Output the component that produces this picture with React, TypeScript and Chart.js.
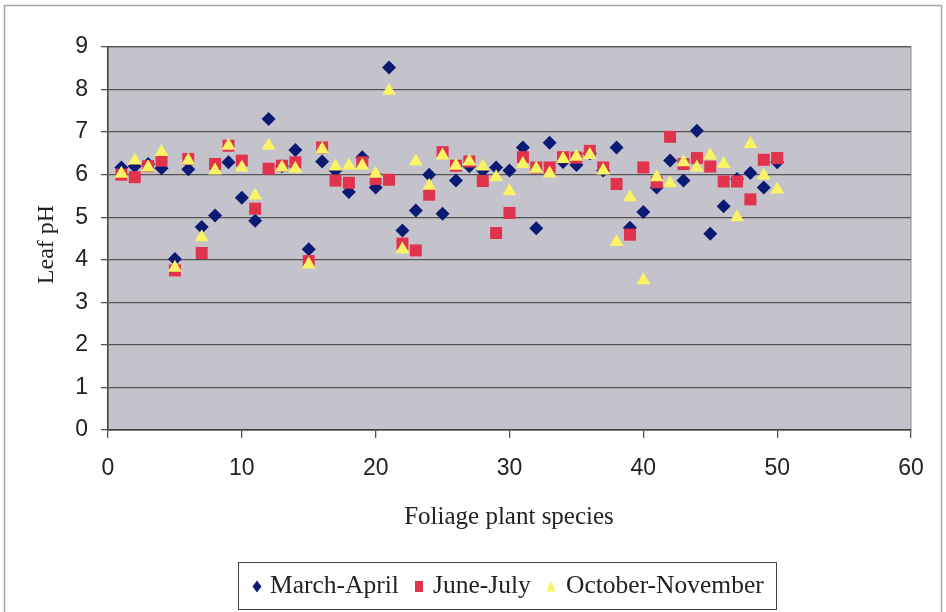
import React, { useEffect, useRef } from "react";
import { Chart, registerables } from "chart.js";

Chart.register(...registerables);

// Species numbers 1..50 along the x axis
const species = [
  1, 2, 3, 4, 5, 6, 7, 8, 9, 10, 11, 12, 13, 14, 15, 16, 17, 18, 19, 20, 21, 22, 23, 24, 25,
  26, 27, 28, 29, 30, 31, 32, 33, 34, 35, 36, 37, 38, 39, 40, 41, 42, 43, 44, 45, 46, 47, 48, 49, 50,
];

// Leaf pH per sampling period
const marchApril = [
  6.17, 6.2, 6.25, 6.15, 4.02, 6.13, 4.77, 5.04, 6.29, 5.46, 4.92, 7.31, 6.2, 6.58, 4.25, 6.31, 6.1,
  5.59, 6.41, 5.7, 8.52, 4.69, 5.16, 6.0, 5.08, 5.86, 6.2, 6.1, 6.17, 6.1, 6.64, 4.74, 6.75, 6.3,
  6.23, 6.5, 6.1, 6.64, 4.75, 5.12, 5.7, 6.33, 5.86, 7.03, 4.61, 5.26, 5.9, 6.04, 5.7, 6.29,
];
const juneJuly = [
  6.0, 5.94, 6.2, 6.33, 3.75, 6.37, 4.16, 6.25, 6.68, 6.33, 5.2, 6.14, 6.21, 6.29, 3.97, 6.64, 5.86,
  5.81, 6.29, 5.9, 5.88, 4.38, 4.22, 5.53, 6.53, 6.21, 6.31, 5.85, 4.63, 5.1, 6.41, 6.17, 6.17, 6.41,
  6.4, 6.56, 6.17, 5.78, 4.59, 6.17, 5.82, 6.89, 6.25, 6.39, 6.19, 5.84, 5.84, 5.42, 6.35, 6.39,
];
const octoberNovember = [
  6.02, 6.33, 6.17, 6.53, 3.81, 6.33, 4.53, 6.1, 6.68, 6.17, 5.51, 6.68, 6.17, 6.14, 3.89, 6.6, 6.19,
  6.21, 6.21, 6.02, 7.97, 4.24, 6.31, 5.74, 6.45, 6.21, 6.31, 6.19, 5.94, 5.61, 6.25, 6.14, 6.03,
  6.37, 6.42, 6.46, 6.1, 4.42, 5.47, 3.52, 5.94, 5.8, 6.29, 6.17, 6.45, 6.25, 5.0, 6.72, 5.98, 5.65,
];

const seriesNames = ["March-April", "June-July", "October-November"];
const xTicks = [0, 10, 20, 30, 40, 50, 60];
const yTicks = [0, 1, 2, 3, 4, 5, 6, 7, 8, 9];

const NAVY = "#0b1a72";
const RED = "#e2334d";
const YELLOW = "#f9f365";
const SERIF = "'Liberation Serif', 'Times New Roman', serif";
const SANS = "'Liberation Sans', Arial, sans-serif";

const toPoints = (ys: number[]) => species.map((x, i) => ({ x, y: ys[i] }));

// Background, frame, axis titles and the boxed legend
const decorPlugin = {
  id: "decor",
  beforeDraw(chart: any) {
    const { ctx, chartArea: a, width, height } = chart;
    ctx.save();
    ctx.fillStyle = "#ffffff";
    ctx.fillRect(0, 0, width, height);
    // outer frame
    ctx.strokeStyle = "#a8a8a8";
    ctx.lineWidth = 1.5;
    ctx.beginPath();
    ctx.moveTo(4.5, height);
    ctx.lineTo(4.5, 5.5);
    ctx.lineTo(941.5, 5.5);
    ctx.lineTo(941.5, height);
    ctx.stroke();
    // plot area
    ctx.fillStyle = "#c4c3cc";
    ctx.fillRect(a.left, a.top, a.right - a.left, a.bottom - a.top);
    ctx.strokeStyle = "#8c8c8c";
    ctx.lineWidth = 1;
    ctx.strokeRect(a.left, a.top, a.right - a.left, a.bottom - a.top);
    ctx.restore();
  },
  afterDraw(chart: any) {
    const { ctx, chartArea: a } = chart;
    ctx.save();
    ctx.fillStyle = "#222";
    // y title
    ctx.font = `24px ${SERIF}`;
    ctx.textAlign = "center";
    ctx.textBaseline = "middle";
    ctx.translate(47, (a.top + a.bottom) / 2 + 6);
    ctx.rotate(-Math.PI / 2);
    ctx.fillText("Leaf pH", 0, 0);
    ctx.restore();

    ctx.save();
    ctx.fillStyle = "#222";
    ctx.font = `25px ${SERIF}`;
    ctx.textAlign = "center";
    ctx.textBaseline = "middle";
    ctx.fillText("Foliage plant species", 509, 517);

    // legend
    const bx = 238, by = 562, bw = 538, bh = 47;
    ctx.fillStyle = "#ffffff";
    ctx.fillRect(bx, by, bw, bh);
    ctx.strokeStyle = "#444";
    ctx.lineWidth = 1;
    ctx.strokeRect(bx + 0.5, by + 0.5, bw, bh);
    const cy = by + bh / 2 + 1;
    const items = [
      { x: 257, tx: 270, color: NAVY, shape: "diamond" },
      { x: 419, tx: 433, color: RED, shape: "square" },
      { x: 551, tx: 566, color: YELLOW, shape: "triangle" },
    ];
    items.forEach((it, i) => {
      ctx.fillStyle = it.color;
      ctx.beginPath();
      if (it.shape === "diamond") {
        ctx.moveTo(it.x, cy - 6);
        ctx.lineTo(it.x + 4.5, cy);
        ctx.lineTo(it.x, cy + 6);
        ctx.lineTo(it.x - 4.5, cy);
        ctx.closePath();
      } else if (it.shape === "square") {
        ctx.rect(it.x - 4, cy - 5.5, 8, 11);
      } else {
        ctx.moveTo(it.x, cy - 6);
        ctx.lineTo(it.x + 4.5, cy + 5);
        ctx.lineTo(it.x - 4.5, cy + 5);
        ctx.closePath();
      }
      ctx.fill();
      ctx.fillStyle = "#222";
      ctx.font = `25.5px ${SERIF}`;
      ctx.textAlign = "left";
      ctx.textBaseline = "middle";
      ctx.fillText(seriesNames[i], it.tx, cy);
    });
    ctx.restore();
  },
};

export default function App() {
  const ref = useRef<HTMLCanvasElement | null>(null);

  useEffect(() => {
    if (!ref.current) return;
    const chart = new Chart(ref.current, {
      type: "scatter",
      data: {
        datasets: [
          {
            label: seriesNames[0],
            data: toPoints(marchApril),
            pointStyle: "rectRot",
            pointRadius: 7,
            backgroundColor: NAVY,
            borderColor: NAVY,
            borderWidth: 0,
            order: 3,
          },
          {
            label: seriesNames[1],
            data: toPoints(juneJuly),
            pointStyle: "rect",
            pointRadius: 8.5,
            backgroundColor: RED,
            borderColor: RED,
            borderWidth: 0,
            order: 2,
          },
          {
            label: seriesNames[2],
            data: toPoints(octoberNovember),
            pointStyle: "triangle",
            pointRadius: 8,
            backgroundColor: YELLOW,
            borderColor: YELLOW,
            borderWidth: 0,
            order: 1,
          },
        ],
      },
      options: {
        responsive: false,
        animation: false,
        layout: { padding: { left: 0, top: 47, right: 35, bottom: 0 } },
        plugins: { legend: { display: false }, tooltip: { enabled: false } },
        scales: {
          x: {
            type: "linear",
            min: 0,
            max: 60,
            afterBuildTicks: (s: any) => {
              s.ticks = xTicks.map((v) => ({ value: v }));
            },
            afterFit: (s: any) => {
              s.height = 182;
            },
            ticks: {
              font: { family: SANS, size: 23 },
              color: "#222",
              padding: 17,
              maxRotation: 0,
            },
            grid: {
              drawOnChartArea: false,
              tickLength: 8,
              color: "#555",
              lineWidth: 1.3,
            },
            border: { color: "#444", width: 1.5 },
          },
          y: {
            min: 0,
            max: 9,
            afterBuildTicks: (s: any) => {
              s.ticks = yTicks.map((v) => ({ value: v }));
            },
            afterFit: (s: any) => {
              s.width = 108;
            },
            ticks: {
              font: { family: SANS, size: 23 },
              color: "#222",
              padding: 13,
            },
            grid: {
              color: "#555",
              lineWidth: 1.3,
              tickLength: 7,
            },
            border: { color: "#444", width: 1.5 },
          },
        },
      },
      plugins: [decorPlugin],
    });
    return () => chart.destroy();
  }, []);

  return (
    <div style={{ position: "absolute", left: 0, top: 0, width: 946, height: 612 }}>
      <canvas ref={ref} width={946} height={612} style={{ display: "block" }} />
    </div>
  );
}
